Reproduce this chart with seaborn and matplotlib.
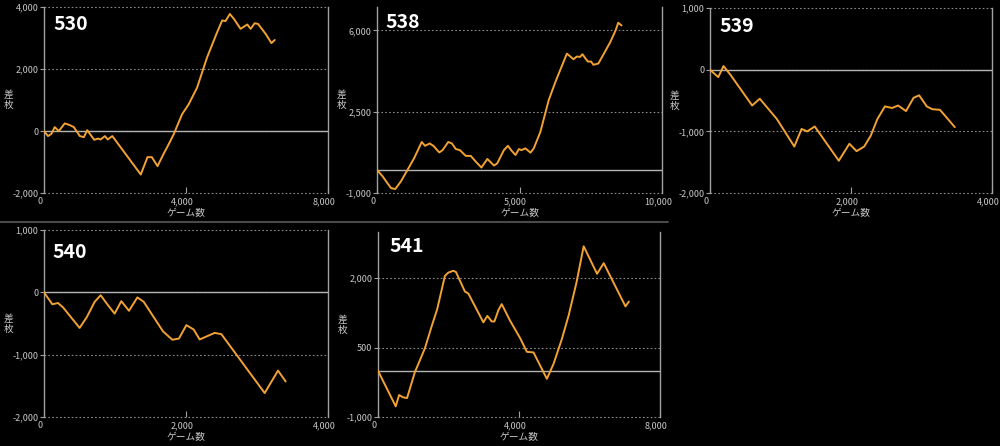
#!/usr/bin/env python3
# -*- coding: utf-8 -*-
"""
Slot machine payout graphs (差枚 vs ゲーム数) for five machines, dark screenshot style.
"""

import matplotlib

matplotlib.use("Agg")
import matplotlib.pyplot as plt
import pandas as pd
import seaborn as sns
from matplotlib.lines import Line2D
from matplotlib.ticker import FuncFormatter
from matplotlib.transforms import ScaledTranslation

# machine 530
games_530 = [0, 113, 207, 302, 415, 585, 726, 840, 1010, 1123, 1217, 1415, 1528, 1594,
             1717, 1792, 1925, 2726, 2915, 3038, 3198, 3368, 3509, 3651, 3887, 4075,
             4311, 4594, 4877, 5019, 5113, 5236, 5349, 5538, 5726, 5821, 5934, 6028,
             6245, 6406, 6500]
diff_530 = [0, -160, -90, 130, 0, 250, 195, 130, -160, -195, 30, -280, -240, -270,
            -160, -270, -160, -1400, -840, -840, -1130, -735, -430, -110, 540, 865,
            1400, 2380, 3190, 3570, 3550, 3780, 3620, 3300, 3440, 3300, 3480, 3460,
            3135, 2840, 2940]

# machine 538
games_538 = [0, 198, 488, 640, 837, 1070, 1302, 1570, 1686, 1849, 1977, 2186, 2302,
             2500, 2628, 2767, 2907, 3116, 3291, 3465, 3663, 3872, 4105, 4221, 4453,
             4593, 4721, 4860, 4977, 5070, 5209, 5384, 5500, 5733, 6023, 6256, 6488,
             6663, 6895, 7012, 7128, 7209, 7395, 7512, 7593, 7767, 7884, 8174, 8372,
             8465, 8581]
diff_538 = [0, -280, -780, -825, -500, 0, 500, 1200, 1035, 1135, 1035, 750, 850,
            1200, 1135, 895, 850, 600, 600, 355, 100, 470, 185, 285, 850, 1035, 825,
            640, 895, 850, 925, 740, 925, 1635, 2990, 3770, 4475, 5000, 4760, 4875,
            4860, 4975, 4660, 4660, 4520, 4575, 4830, 5470, 6000, 6330, 6210]

# machine 539
games_539 = [0, 117, 192, 295, 598, 706, 949, 1196, 1299, 1379, 1486, 1827, 1977,
             2079, 2187, 2280, 2374, 2481, 2584, 2668, 2780, 2888, 2967, 3075, 3154,
             3262, 3472]
diff_539 = [0, -120, 60, -90, -580, -470, -800, -1245, -960, -1000, -920, -1475,
            -1200, -1320, -1245, -1070, -800, -595, -620, -580, -670, -455, -415,
            -595, -640, -650, -930]

# machine 540
games_540 = [0, 117, 197, 268, 502, 606, 714, 798, 901, 995, 1089, 1197, 1315, 1404,
             1676, 1808, 1901, 2005, 2108, 2192, 2404, 2498, 3108, 3296, 3404]
diff_540 = [0, -190, -170, -240, -570, -390, -150, -45, -205, -340, -140, -295, -80,
            -150, -625, -760, -740, -525, -595, -755, -650, -670, -1615, -1255, -1430]

# machine 541
games_541 = [0, 503, 598, 712, 825, 1044, 1328, 1518, 1679, 1898, 1992, 2135, 2211,
             2467, 2562, 2989, 3102, 3226, 3302, 3416, 3510, 3748, 4032, 4222, 4412,
             4791, 4981, 5218, 5408, 5626, 5835, 6214, 6404, 7021, 7116]
diff_541 = [0, -770, -525, -575, -590, -35, 480, 950, 1330, 2050, 2120, 2160, 2135,
            1710, 1670, 1045, 1185, 1065, 1065, 1310, 1440, 1080, 705, 410, 395,
            -175, 150, 690, 1195, 1890, 2690, 2095, 2325, 1390, 1495]

LINE_COLOR = "#f2a232"
TICK_COLOR = "#c8c8c8"
GRID_COLOR = "#8a8a8a"

sns.set_theme(style="dark", rc={
    "figure.facecolor": "black",
    "axes.facecolor": "black",
    "savefig.facecolor": "black",
})
plt.rcParams["font.family"] = ["Noto Sans CJK JP", "DejaVu Sans"]

panels = [
    # name, x, y, xlim, xticks, ylim, yticks, rect (figure fraction), label pos
    ("530", games_530, diff_530, (0, 8000), [0, 4000, 8000], (-2000, 4000),
     [-2000, 0, 2000, 4000], [0.044, 0.567, 0.284, 0.417], (0.035, 0.905)),
    ("538", games_538, diff_538, (0, 10000), [0, 5000, 10000], (-1000, 7000),
     [-1000, 2500, 6000], [0.377, 0.567, 0.285, 0.417], (0.03, 0.92)),
    ("539", games_539, diff_539, (0, 4000), [0, 2000, 4000], (-2000, 1000),
     [-2000, -1000, 0, 1000], [0.710, 0.567, 0.282, 0.415], (0.035, 0.90)),
    ("540", games_540, diff_540, (0, 4000), [0, 2000, 4000], (-2000, 1000),
     [-2000, -1000, 0, 1000], [0.044, 0.065, 0.284, 0.419], (0.03, 0.88)),
    ("541", games_541, diff_541, (0, 8000), [0, 4000, 8000], (-1000, 3000),
     [-1000, 500, 2000], [0.378, 0.065, 0.282, 0.415], (0.04, 0.92)),
]

comma = FuncFormatter(lambda v, pos: f"{int(v):,}")

fig = plt.figure(figsize=(10, 4.46), dpi=100)
# x tick labels sit a few pixels left of their ticks in the screenshots
shift_left = ScaledTranslation(-4 / 100, 0, fig.dpi_scale_trans)

for name, xs, ys, xlim, xticks, ylim, yticks, rect, label_pos in panels:
    ax = fig.add_axes(rect)
    df = pd.DataFrame({"games": xs, "diff": ys})
    # dotted guides first, then the zero line, then the data
    for t in yticks:
        ax.axhline(t, color=GRID_COLOR, lw=0.8, ls=(0, (1.5, 2)), zorder=1, clip_on=False)
    ax.axhline(0, color="#b4b4b4", lw=1.0, zorder=2)
    sns.lineplot(data=df, x="games", y="diff", ax=ax, color=LINE_COLOR, lw=1.4,
                 zorder=3, estimator=None, sort=False)
    ax.set_xlim(*xlim)
    ax.set_ylim(*ylim)
    ax.set_xticks(xticks)
    ax.set_yticks(yticks)
    ax.xaxis.set_major_formatter(comma)
    ax.yaxis.set_major_formatter(comma)
    ax.grid(False)
    for side in ["top", "bottom"]:
        ax.spines[side].set_visible(False)
    for side in ["left", "right"]:
        ax.spines[side].set_visible(True)
        ax.spines[side].set_color("#a0a0a0")
        ax.spines[side].set_linewidth(1.0)
    ax.tick_params(axis="y", direction="out", length=3, width=0.8, color="#a0a0a0",
                   labelsize=6.5, labelcolor=TICK_COLOR, pad=1, left=True)
    ax.tick_params(axis="x", direction="in", length=4, width=0.8, color="#a0a0a0",
                   labelsize=6.5, labelcolor=TICK_COLOR, pad=3, bottom=True)
    for lab in ax.get_xticklabels():
        lab.set_transform(lab.get_transform() + shift_left)
    ax.set_xlabel("ゲーム数", fontsize=7, color=TICK_COLOR, labelpad=1)
    ax.set_ylabel("差\n枚", fontsize=7, color=TICK_COLOR, rotation=0,
                  linespacing=1.0, va="center")
    ax.yaxis.set_label_coords(-0.125, 0.5)
    ax.text(label_pos[0], label_pos[1], name, transform=ax.transAxes,
            fontsize=14, fontweight="bold", color="white", ha="left", va="center")

# separator between the two rows of screenshots
fig.add_artist(Line2D([0.0, 0.668], [0.503, 0.503], color="#4a4a4a", lw=1.5))

fig.savefig("out.png", dpi=100, facecolor="black")
print("> Output image saved as : out.png")
